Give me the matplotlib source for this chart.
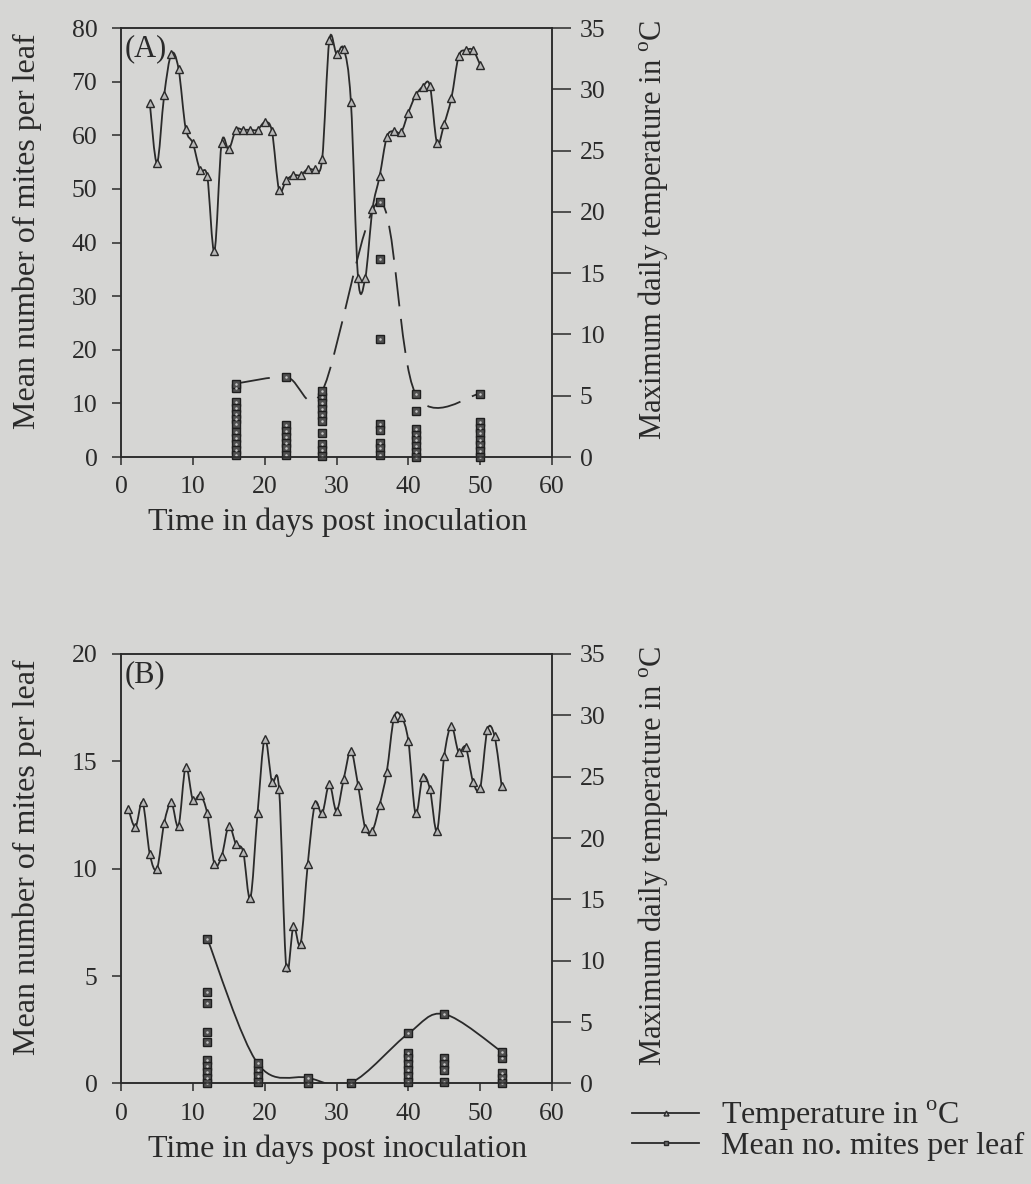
import matplotlib
matplotlib.use("Agg")
import matplotlib.pyplot as plt
import numpy as np
from matplotlib.path import Path
from matplotlib.patches import PathPatch
from matplotlib.lines import Line2D

plt.rcParams["font.family"] = ["Liberation Serif", "DejaVu Serif"]
plt.rcParams["mathtext.fontset"] = "custom"
plt.rcParams["mathtext.rm"] = "Liberation Serif"

# ---- panel A data ----
temp_days_a = list(range(4, 51))
temps_a = [28.9, 24.0, 29.5, 32.9, 31.7, 26.8, 25.6, 23.4, 22.9, 16.8,
           25.6, 25.1, 26.7, 26.7, 26.7, 26.7, 27.3, 26.6, 21.8, 22.6,
           23.0, 23.0, 23.5, 23.5, 24.3, 34.0, 32.9, 33.3, 29.0, 14.6,
           14.6, 20.2, 22.9, 26.1, 26.6, 26.5, 28.1, 29.5, 30.2, 30.3,
           25.6, 27.2, 29.3, 32.7, 33.2, 33.2, 32.0]
mite_days_a = [16, 23, 28, 36, 41, 50]
mite_means_a = [13.7, 14.9, 12.3, 47.6, 11.8, 11.8]
mite_reps_a = [
    [12.9, 10.3, 9.1, 8.1, 7.0, 6.1, 4.7, 3.6, 2.5, 1.4, 0.3],
    [5.9, 4.8, 3.7, 2.6, 1.6, 0.4],
    [11.2, 10.1, 9.0, 7.9, 6.8, 4.4, 2.4, 1.3, 0.2],
    [37.0, 22.0, 6.1, 5.0, 2.7, 1.6, 0.4],
    [8.5, 5.3, 4.2, 3.1, 2.0, 0.9, 0.0],
    [6.5, 5.4, 4.4, 3.2, 2.2, 1.1, 0.0],
]

# ---- panel B data ----
temp_days_b = list(range(1, 54))
temps_b = [22.4, 20.9, 22.9, 18.7, 17.5, 21.2, 22.9, 21.0, 25.8, 23.1,
           23.5, 22.0, 17.9, 18.5, 21.0, 19.5, 18.9, 15.1, 22.0, 28.1,
           24.6, 24.0, 9.5, 12.8, 11.4, 17.9, 22.8, 22.0, 24.4, 22.2,
           24.8, 27.1, 24.3, 20.8, 20.6, 22.7, 25.4, 29.8, 29.9, 27.9,
           22.0, 25.0, 24.0, 20.6, 26.7, 29.1, 27.0, 27.4, 24.6, 24.1,
           28.8, 28.3, 24.2]
mite_days_b = [12, 19, 26, 32, 40, 45, 53]
mite_means_b = [6.75, 0.94, 0.27, 0.03, 2.33, 3.23, 1.48]
mite_reps_b = [
    [4.27, 3.73, 2.41, 1.92, 1.1, 0.8, 0.55, 0.27, 0.0],
    [0.65, 0.35, 0.05],
    [0.0],
    [],
    [1.43, 1.17, 0.89, 0.63, 0.35, 0.07],
    [1.17, 0.89, 0.63, 0.07],
    [1.17, 0.5, 0.24, 0.04],
]

INK = "#2a2a2a"
BG = "#d6d6d4"
LABEL_SIZE = 23
TICK_SIZE = 18.5


def smooth_path(x, y):
    """Bezier path through the points, like a spreadsheet 'smoothed line'."""
    pts = np.column_stack([x, y]).astype(float)
    n = len(pts)
    verts = [pts[0]]
    codes = [Path.MOVETO]
    for i in range(n - 1):
        p0 = pts[max(i - 1, 0)]
        p1 = pts[i]
        p2 = pts[i + 1]
        p3 = pts[min(i + 2, n - 1)]
        verts += [p1 + (p2 - p0) / 6, p2 - (p3 - p1) / 6, p2]
        codes += [Path.CURVE4] * 3
    return Path(verts, codes)


def mite_marks(ax, x, y):
    ax.plot(x, y, "s", ms=5.8, mfc="#505050", mec="#1e1e1e", mew=1.0,
            zorder=3, clip_on=False)
    ax.plot(x, y, "o", ms=1.8, mfc="#c4c4c4", mec="none", zorder=4,
            clip_on=False)


def draw_panel(ax, label, temp_days, temps, mite_days, mite_means, mite_reps,
               ymax, yticks, dashed):
    ax.set_facecolor("none")
    ax2 = ax.twinx()

    # mites on the left axis
    ls = (0, (19, 7)) if dashed else "-"
    ax.add_patch(PathPatch(smooth_path(mite_days, mite_means), fill=False,
                           edgecolor=INK, lw=1.3, linestyle=ls, zorder=2))
    for d, reps in zip(mite_days, mite_reps):
        if reps:
            mite_marks(ax, [d] * len(reps), reps)
    mite_marks(ax, mite_days, mite_means)

    # temperature on the right axis
    ax2.add_patch(PathPatch(smooth_path(temp_days, temps), fill=False,
                            edgecolor=INK, lw=1.3, zorder=2))
    ax2.plot(temp_days, temps, "^", ms=5.5, mfc="#b8b8b8", mec=INK, mew=1.0,
             zorder=3)

    ax.set_xlim(0, 60)
    ax.set_ylim(0, ymax)
    ax.set_yticks(yticks)
    ax.set_xticks(range(0, 61, 10))
    ax2.set_ylim(0, 35)
    ax2.set_yticks(range(0, 36, 5))

    for a in (ax, ax2):
        for s in a.spines.values():
            s.set_color(INK)
            s.set_linewidth(1.1)
    ax.tick_params(axis="y", direction="out", length=6.5, width=1.1, pad=10.5,
                   labelsize=TICK_SIZE, colors=INK)
    ax.tick_params(axis="x", direction="out", length=6, width=1.1, pad=8,
                   labelsize=TICK_SIZE, colors=INK)
    ax2.tick_params(axis="y", direction="out", length=14, width=1.1, pad=6,
                    labelsize=TICK_SIZE, colors=INK)

    ax.set_ylabel("Mean number of mites per leaf", fontsize=LABEL_SIZE,
                  color=INK)
    ax.yaxis.set_label_coords(-0.183, 0.527)
    ax2.set_ylabel(r"Maximum daily temperature in $^{\rm o}$C",
                   fontsize=22, color=INK)
    ax2.yaxis.set_label_coords(1.195, 0.53)
    ax.set_xlabel("Time in days post inoculation", fontsize=LABEL_SIZE,
                  color=INK)
    ax.xaxis.set_label_coords(0.502, -0.118)

    ax.text(0.009, 0.985, label, transform=ax.transAxes, ha="left", va="top",
            fontsize=22, color=INK)
    return ax2


fig = plt.figure(figsize=(10.31, 11.84), dpi=100, facecolor=BG)
ax_a = fig.add_axes([0.1174, 0.614, 0.418, 0.3623])
ax_b = fig.add_axes([0.1174, 0.0849, 0.418, 0.3628])

draw_panel(ax_a, "(A)", temp_days_a, temps_a, mite_days_a, mite_means_a,
           mite_reps_a, 80, range(0, 81, 10), dashed=True)
draw_panel(ax_b, "(B)", temp_days_b, temps_b, mite_days_b, mite_means_b,
           mite_reps_b, 20, range(0, 21, 5), dashed=False)

handles = [
    Line2D([], [], color=INK, lw=1.3, marker="^", ms=3.5, mfc="#b8b8b8",
           mec=INK),
    Line2D([], [], color=INK, lw=1.3, marker="s", ms=3.5, mfc="#6a6a6a",
           mec=INK),
]
fig.legend(handles, [r"Temperature in $^{\rm o}$C", "Mean no. mites per leaf"],
           loc="center left", bbox_to_anchor=(0.613, 0.0455), frameon=False,
           fontsize=LABEL_SIZE, handlelength=2.1, handletextpad=0.68,
           labelspacing=-0.06, borderaxespad=0, borderpad=0, labelcolor=INK)

fig.savefig("out.png", dpi=100, facecolor=BG)
